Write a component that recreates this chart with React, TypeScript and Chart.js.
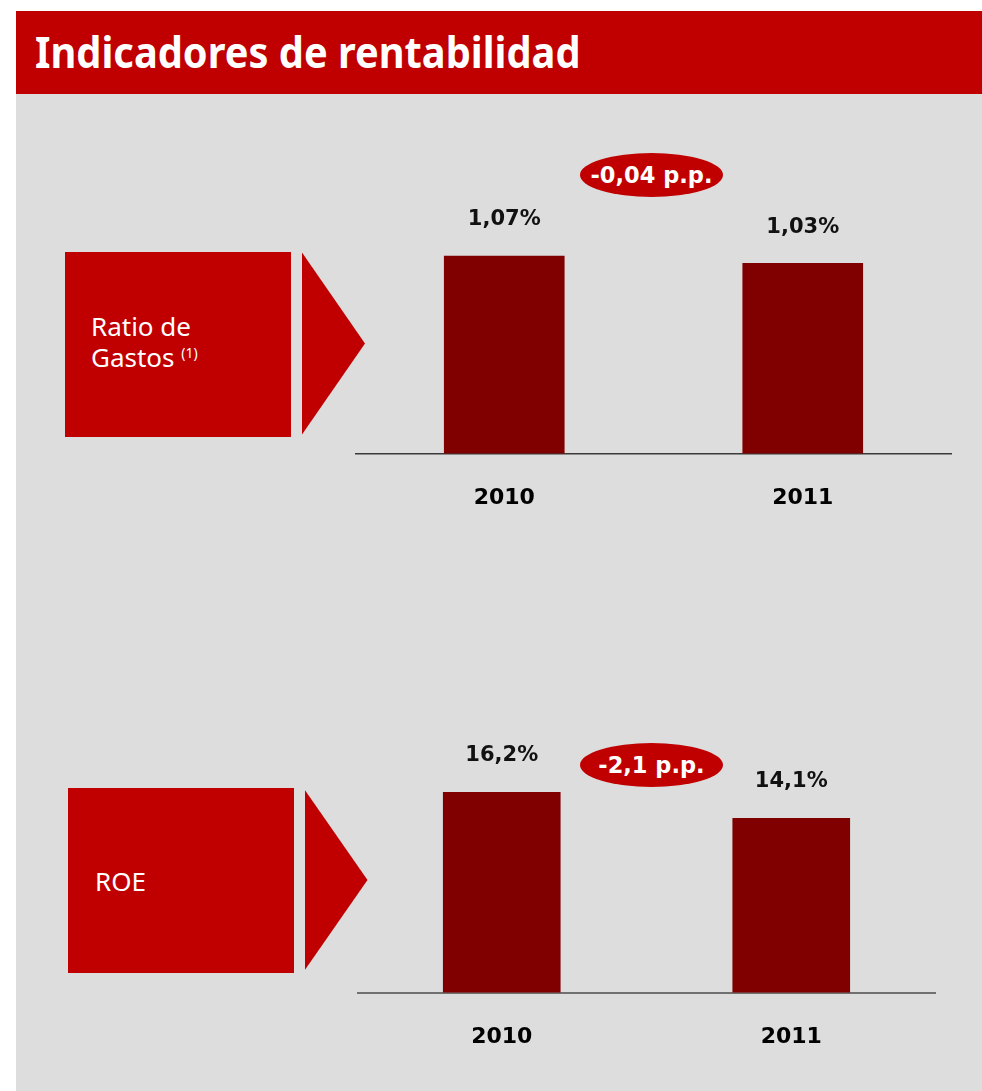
import React, { useEffect, useRef } from "react";
import { Chart, registerables } from "chart.js";

Chart.register(...registerables);

const titleText = "Indicadores de rentabilidad";
const years = ["2010", "2011"];
const gastosValues = [1.07, 1.03];
const roeValues = [16.2, 14.1];
const gastosChange = "-0,04 p.p.";
const roeChange = "-2,1 p.p.";

const RED = "#C00000";
const BAR = "#800000";
const GREY = "#DDDDDD";

type BarChartProps = {
  left: number;
  top: number;
  width: number;
  height: number;
  values: number[];
  decimals: number;
  yMax: number;
  barThickness: number;
  borderColor: string;
  borderWidth: number;
};

function BarChart(p: BarChartProps) {
  const ref = useRef<HTMLCanvasElement | null>(null);
  useEffect(() => {
    if (!ref.current) return;
    const valueLabels = {
      id: "valueLabels",
      afterDatasetsDraw(chart: any) {
        const ctx = chart.ctx;
        const meta = chart.getDatasetMeta(0);
        ctx.save();
        ctx.font = "bold 21px 'DejaVu Sans'";
        ctx.fillStyle = "#111111";
        ctx.textAlign = "center";
        ctx.textBaseline = "alphabetic";
        meta.data.forEach((el: any, i: number) => {
          const v = p.values[i];
          const txt = v.toFixed(p.decimals).replace(".", ",") + "%";
          ctx.fillText(txt, el.x, el.y - 38.5 + 0.365 * 21);
        });
        ctx.restore();
      },
    };
    const chart = new Chart(ref.current, {
      type: "bar",
      data: {
        labels: years,
        datasets: [
          {
            data: p.values,
            backgroundColor: BAR,
            barThickness: p.barThickness,
            borderWidth: 0,
          },
        ],
      },
      options: {
        animation: false,
        responsive: false,
        maintainAspectRatio: false,
        layout: { padding: { top: 80, left: 0, right: 0, bottom: 0 } },
        plugins: {
          legend: { display: false },
          tooltip: { enabled: false },
        },
        scales: {
          x: {
            offset: true,
            grid: { display: false, drawTicks: false },
            border: { display: true, color: p.borderColor, width: p.borderWidth },
            ticks: {
              padding: 31,
              color: "#000000",
              font: { family: "'DejaVu Sans'", size: 22, weight: "bold" },
            },
          },
          y: {
            display: false,
            min: 0,
            max: p.yMax,
          },
        },
      },
      plugins: [valueLabels],
    });
    return () => chart.destroy();
  }, []);
  return (
    <canvas
      ref={ref}
      width={p.width}
      height={p.height}
      style={{ position: "absolute", left: p.left, top: p.top, width: p.width, height: p.height }}
    />
  );
}

function LabelBox(props: { left: number; top: number; children: React.ReactNode }) {
  return (
    <div
      style={{
        position: "absolute",
        left: props.left,
        top: props.top,
        width: 226,
        height: 185,
        background: RED,
        color: "#fff",
        fontFamily: "'Noto Sans', sans-serif",
        fontSize: 26,
      }}
    >
      {props.children}
    </div>
  );
}

function Arrow(props: { left: number; top: number; height: number }) {
  return (
    <div
      style={{
        position: "absolute",
        left: props.left,
        top: props.top,
        width: 63,
        height: props.height,
        background: RED,
        clipPath: "polygon(0 0, 100% 50%, 0 100%)",
      }}
    />
  );
}

function Badge(props: { cx: number; cy: number; text: string }) {
  return (
    <div
      style={{
        position: "absolute",
        left: props.cx - 71.5,
        top: props.cy - 22,
        width: 143,
        height: 44,
        borderRadius: "50%",
        background: RED,
        color: "#fff",
        fontFamily: "'DejaVu Sans', sans-serif",
        fontWeight: "bold",
        fontSize: 22.5,
        display: "flex",
        alignItems: "center",
        justifyContent: "center",
        whiteSpace: "nowrap",
      }}
    >
      {props.text}
    </div>
  );
}

export default function App() {
  return (
    <div style={{ position: "relative", width: 982, height: 1091, background: "#fff", overflow: "hidden" }}>
      <style>{"body{margin:0}"}</style>
      <div style={{ position: "absolute", left: 16, top: 94, width: 966, height: 997, background: GREY }} />
      <div style={{ position: "absolute", left: 16, top: 11, width: 966, height: 83, background: RED }} />
      <div
        style={{
          position: "absolute",
          left: 35,
          top: 29.5,
          color: "#fff",
          fontFamily: "'Noto Sans', sans-serif",
          fontWeight: "bold",
          fontSize: 43,
          lineHeight: "43px",
          whiteSpace: "nowrap",
          transform: "scaleX(0.925)",
          transformOrigin: "0 0",
        }}
      >
        {titleText}
      </div>

      <LabelBox left={65} top={252}>
        <div style={{ position: "absolute", left: 26, top: 59, lineHeight: "31px", whiteSpace: "nowrap" }}>
          Ratio de
          <br />
          Gastos <sup style={{ fontSize: 14, verticalAlign: 0, position: "relative", top: -9 }}>(1)</sup>
        </div>
      </LabelBox>
      <Arrow left={302} top={252.5} height={182} />
      <Badge cx={651.5} cy={175} text={gastosChange} />
      <BarChart
        left={355}
        top={152}
        width={597}
        height={390}
        values={gastosValues}
        decimals={2}
        yMax={1.2}
        barThickness={120}
        borderColor="#3a3a3a"
        borderWidth={1.5}
      />

      <LabelBox left={68} top={788}>
        <div style={{ position: "absolute", left: 27, top: 75, lineHeight: "36px", whiteSpace: "nowrap" }}>ROE</div>
      </LabelBox>
      <Arrow left={304.5} top={789.5} height={181} />
      <Badge cx={651.5} cy={764.5} text={roeChange} />
      <BarChart
        left={357}
        top={690}
        width={579}
        height={391}
        values={roeValues}
        decimals={1}
        yMax={18}
        barThickness={117}
        borderColor="#707070"
        borderWidth={2}
      />
    </div>
  );
}
